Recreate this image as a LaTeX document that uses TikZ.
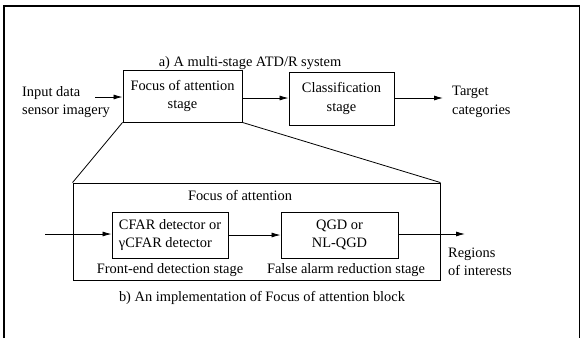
\documentclass[tikz,border=0pt]{standalone}
\usepackage{fontspec}
\setmainfont{Liberation Serif}
\usetikzlibrary{arrows.meta}
\begin{document}
\begin{tikzpicture}[x=1pt,y=-1pt,
  every node/.style={font=\fontsize{14.4}{18.5}\selectfont, inner sep=0pt},
  blockbox/.style={draw, line width=0.9pt},
  txt/.style={align=left, anchor=west},
  flow/.style={line width=0.8pt, -{Latex[length=9pt,width=5pt]}},
  link/.style={line width=0.8pt}]
\useasboundingbox (0,0) rectangle (581,338);
% outer frame, open at the foot of the page
\draw[line width=1.2pt] (4,338) -- (4,6) -- (579.5,6) -- (579.5,338);

% a) top-level system
\node (titleA) at (250,63) {a) A multi-stage ATD/R system};
\node[blockbox, minimum width=119pt, minimum height=52pt, align=center] (foa) at (182.5,96)
  {Focus of attention\\stage};
\node[blockbox, minimum width=105pt, minimum height=53pt, align=center] (cls) at (341.5,98.5)
  {Classification\\stage};
\node[txt] (inp) at (22,102) {Input data\\sensor imagery};
\node[txt] (tgt) at (452,102) {Target\\categories};
\coordinate (inStart) at (95,97);
\coordinate (tgtEnd) at (443,98);
\draw[flow] (inStart) -- (inStart -| foa.west);
\draw[flow] (foa.east |- 0,98) -- (cls.west |- 0,98);
\draw[flow] (cls.east |- 0,98) -- (tgtEnd);

% b) expansion of the focus of attention block
\node[blockbox, minimum width=367pt, minimum height=97pt] (impl) at (256.5,231.5) {};
\draw[link] (foa.south west) -- (impl.north west);
\draw[link] (foa.south east) -- (impl.north east);
\node (foaT) at (240,195) {Focus of attention};
\node[blockbox, minimum width=116pt, minimum height=46pt, align=left] (cfar) at (170,235)
  {CFAR detector or\\γCFAR detector};
\node[blockbox, minimum width=117pt, minimum height=46pt, align=center] (qgd) at (339.5,235)
  {QGD or\\NL-QGD};
\node (fe) at (170,270) {Front-end detection stage};
\node (far) at (346,270) {False alarm reduction stage};
\node[txt] (roi) at (448,262) {Regions\\of interests};
\coordinate (implIn) at (45,234);
\coordinate (roiEnd) at (465,234);
\draw[flow] (implIn) -- (implIn -| cfar.west);
\draw[flow] (cfar.east) -- (qgd.west);
\draw[flow] (qgd.east |- 0,234) -- (roiEnd);
\node (titleB) at (262,298) {b) An implementation of Focus of attention block};
\end{tikzpicture}
\end{document}
